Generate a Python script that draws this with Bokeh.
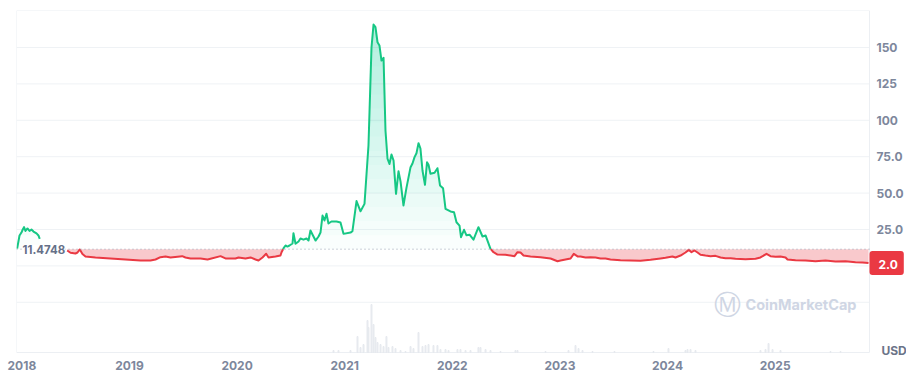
import numpy as np
from bokeh.plotting import figure
from bokeh.models import Range1d, FixedTicker, Label
from bokeh.embed import file_html
from bokeh.resources import INLINE

# ---------------- data ----------------
baseline = 11.4748
last_price = 2.0

early_years = [2017.956, 2017.978, 2017.996, 2018.008, 2018.020, 2018.033, 2018.052,
               2018.071, 2018.089, 2018.108, 2018.136, 2018.154, 2018.166]
early_prices = [11.9, 20.9, 22.9, 25.0, 26.6, 24.0, 25.7, 24.0, 25.0, 23.6, 22.3, 20.9, 18.6]

years = [
    2018.421, 2018.452, 2018.498, 2018.517, 2018.538, 2018.563, 2018.591, 2018.684, 2018.823, 2018.963,
    2019.102, 2019.195, 2019.242, 2019.288, 2019.335, 2019.381, 2019.490, 2019.520, 2019.567, 2019.660,
    2019.725, 2019.753, 2019.846, 2019.892, 2019.985, 2020.013, 2020.078, 2020.125, 2020.171, 2020.199,
    2020.236, 2020.270, 2020.292, 2020.357, 2020.403, 2020.413, 2020.431, 2020.450, 2020.468, 2020.487,
    2020.515, 2020.524, 2020.543, 2020.571, 2020.589, 2020.617, 2020.645, 2020.664, 2020.682, 2020.710,
    2020.729, 2020.757, 2020.775, 2020.794, 2020.812, 2020.831, 2020.849, 2020.877, 2020.924, 2020.961,
    2020.989, 2021.054, 2021.072, 2021.110, 2021.147, 2021.184, 2021.221, 2021.249, 2021.268, 2021.286,
    2021.305, 2021.323, 2021.342, 2021.361, 2021.379, 2021.398, 2021.416, 2021.435, 2021.454, 2021.477,
    2021.500, 2021.519, 2021.546, 2021.574, 2021.612, 2021.630, 2021.649, 2021.667, 2021.686, 2021.704,
    2021.723, 2021.746, 2021.765, 2021.779, 2021.797, 2021.835, 2021.862, 2021.886, 2021.914, 2021.937,
    2021.983, 2022.016, 2022.039, 2022.067, 2022.081, 2022.109, 2022.132, 2022.160, 2022.197, 2022.243,
    2022.281, 2022.309, 2022.355, 2022.383, 2022.420, 2022.494, 2022.541, 2022.578, 2022.606, 2022.634,
    2022.662, 2022.727, 2022.820, 2022.913, 2022.978, 2023.006, 2023.052, 2023.099, 2023.129, 2023.164,
    2023.191, 2023.238, 2023.284, 2023.331, 2023.377, 2023.424, 2023.470, 2023.563, 2023.656, 2023.749,
    2023.842, 2023.935, 2023.981, 2024.046, 2024.074, 2024.121, 2024.167, 2024.198, 2024.223, 2024.251,
    2024.279, 2024.307, 2024.353, 2024.400, 2024.446, 2024.493, 2024.539, 2024.586, 2024.632, 2024.725,
    2024.818, 2024.864, 2024.920, 2024.957, 2025.004, 2025.050, 2025.097, 2025.115, 2025.190, 2025.283,
    2025.375, 2025.468, 2025.561, 2025.654, 2025.747, 2025.812, 2025.868]

prices = [
    10.6, 9.0, 8.5, 9.2, 11.3, 8.2, 6.5, 5.8, 5.1, 4.4,
    3.7, 3.7, 4.4, 6.0, 6.5, 5.8, 6.7, 5.8, 5.1, 5.1,
    4.4, 4.9, 6.7, 5.1, 5.1, 5.8, 5.1, 5.8, 4.4, 3.7,
    5.8, 8.3, 5.8, 6.5, 7.1, 9.4, 12.0, 14.0, 13.3, 14.0,
    15.4, 22.5, 15.2, 16.8, 18.8, 18.0, 18.8, 17.4, 24.3, 20.2,
    17.4, 20.2, 22.9, 34.6, 31.2, 35.8, 29.1, 30.5, 30.5, 29.8,
    22.0, 22.9, 23.8, 44.5, 37.5, 42.6, 82.7, 150.0, 165.8, 164.0,
    153.6, 151.4, 141.0, 142.9, 93.0, 73.6, 70.0, 76.5, 72.4, 49.5,
    65.0, 58.0, 41.5, 53.6, 67.8, 70.3, 74.7, 77.4, 84.3, 80.6,
    65.5, 55.7, 71.2, 69.5, 63.3, 64.0, 67.1, 55.2, 53.4, 39.2,
    37.4, 36.9, 30.0, 27.7, 19.7, 24.8, 21.0, 21.4, 18.0, 26.6,
    20.2, 20.9, 11.7, 9.4, 7.8, 7.6, 7.1, 6.7, 9.4, 9.2,
    7.1, 6.5, 6.0, 5.1, 3.2, 3.7, 4.4, 5.1, 8.3, 6.5,
    6.5, 5.8, 6.0, 5.8, 5.1, 5.1, 4.4, 3.9, 3.7, 3.5,
    4.2, 5.1, 5.6, 6.5, 5.8, 7.1, 9.2, 11.0, 9.4, 10.6,
    9.2, 7.6, 7.1, 6.7, 6.9, 5.8, 5.3, 5.3, 4.9, 4.6,
    4.9, 5.8, 8.3, 6.7, 6.3, 6.5, 5.8, 4.4, 3.9, 3.7,
    3.2, 3.7, 3.0, 3.2, 2.5, 2.3, 2.0]

vol_years = [2020.896, 2020.942, 2021.054, 2021.119, 2021.147, 2021.175, 2021.212, 2021.221, 2021.249,
             2021.268, 2021.286, 2021.305, 2021.333, 2021.361, 2021.388, 2021.407, 2021.444, 2021.472,
             2021.519, 2021.565, 2021.612, 2021.639, 2021.686, 2021.723, 2021.751, 2021.779, 2021.825,
             2021.862, 2021.890, 2021.937, 2021.965, 2022.048, 2022.076, 2022.123, 2022.169, 2022.243,
             2022.262, 2022.309, 2022.355, 2022.448, 2022.587, 2022.606, 2022.866, 2023.080, 2023.145,
             2023.173, 2023.210, 2023.303, 2023.507, 2023.870, 2024.009, 2024.167, 2024.186, 2024.214,
             2024.260, 2024.864, 2024.911, 2024.939, 2024.976, 2025.050, 2025.515, 2025.608]
vol_values = [2, 2, 2, 16, 5, 8, 32, 25, 48, 28, 15, 10, 8, 6, 16, 5, 6, 4, 2, 1, 6, 4, 20, 6, 7,
              8, 7, 7, 3, 3, 2, 3, 3, 2, 2, 5, 5, 3, 2, 1, 2, 2, 1, 2, 7, 4, 2, 1, 1, 1, 4, 2, 3,
              3, 2, 2, 3, 9, 3, 2, 1, 1]

x_ticks = [2018, 2019, 2020, 2021, 2022, 2023, 2024, 2025]
x_tick_labels = ["2018", "2019", "2020", "2021", "2022", "2023", "2024", "2025"]
y_ticks = [-25, 0, 25, 50, 75, 100, 125, 150]
y_tick_labels = ["", "", "25.0", "50.0", "75.0", "100", "125", "150"]

assert len(years) == len(prices)
assert len(vol_years) == len(vol_values)

GREEN = "#16c784"
RED = "#ea3943"
LABEL = "#7d879c"
BORDER = "#eceff3"
FONT = "Inter"

# plot-area extents (data units)
X0, XE, XR = 2017.95, 2025.877, 2026.221      # left edge, chart right edge, canvas right edge
YT, YB, YR = 175.4, -59.5, -63.6              # chart top, chart bottom, canvas bottom

p = figure(width=906, height=375, x_range=Range1d(X0, XR), y_range=Range1d(YR, YT),
           output_backend="svg", toolbar_location=None, y_axis_location="right",
           min_border_left=16, min_border_top=10, min_border_right=0, min_border_bottom=17,
           background_fill_color="white", border_fill_color="white",
           outline_line_color=None)
p.extra_y_ranges = {"vol": Range1d(-6, 342)}

# chart box and grid lines
p.segment(x0=X0, x1=XE, y0=y_ticks, y1=y_ticks, line_color="#eff2f5", line_width=1)
p.quad(left=[X0], right=[XE], bottom=[YB], top=[YT], fill_color=None,
       line_color=BORDER, line_width=1)

# volume bars
p.vbar(x=vol_years, top=vol_values, bottom=0, width=0.009, y_range_name="vol",
       fill_color="#eaedf2", line_color="#e6e9ee")


def with_crossings(xs, ys, base):
    X, Y = [], []
    for i in range(len(xs)):
        if i > 0 and (ys[i - 1] - base) * (ys[i] - base) < 0:
            t = (base - ys[i - 1]) / (ys[i] - ys[i - 1])
            X.append(xs[i - 1] + t * (xs[i] - xs[i - 1]))
            Y.append(base)
        X.append(xs[i])
        Y.append(ys[i])
    return np.array(X), np.array(Y)


N_LAYERS = 16
top_level = max(prices)
for seg_x, seg_y in [(early_years, early_prices), (years, prices)]:
    X, Y = with_crossings(seg_x, seg_y, baseline)
    upper = np.maximum(Y, baseline)
    lower = np.minimum(Y, baseline)
    for k in range(N_LAYERS):
        lev = baseline + k * (top_level - baseline) / N_LAYERS
        p.varea(x=X, y1=np.full(len(X), lev), y2=np.maximum(upper, lev),
                fill_color=GREEN, fill_alpha=0.021)
    p.varea(x=X, y1=lower, y2=np.full(len(X), baseline), fill_color=RED, fill_alpha=0.27)
    up = np.where(Y >= baseline, Y, np.nan)
    dn = np.where(Y <= baseline, Y, np.nan)
    p.line(X, up, line_color=GREEN, line_width=2, line_join="round")
    p.line(X, dn, line_color=RED, line_width=2, line_join="round")

p.segment(x0=[X0], x1=[XE], y0=[baseline], y1=[baseline], line_color="#9aa3b5",
          line_dash="1 3", line_width=1)

# axes
p.xaxis.ticker = FixedTicker(ticks=x_ticks)
p.xaxis.major_label_overrides = {t: l for t, l in zip(x_ticks, x_tick_labels)}
p.yaxis.ticker = FixedTicker(ticks=y_ticks)
p.yaxis.major_label_overrides = {t: l for t, l in zip(y_ticks, y_tick_labels)}
for ax in (p.xaxis, p.yaxis):
    ax.axis_line_color = None
    ax.major_tick_line_color = None
    ax.minor_tick_line_color = None
    ax.major_tick_out = 0
    ax.major_tick_in = 0
    ax.minor_tick_out = 0
    ax.minor_tick_in = 0
    ax.major_label_text_font = FONT
    ax.major_label_text_font_size = "12px"
    ax.major_label_text_font_style = "bold"
    ax.major_label_text_color = LABEL
p.xaxis.major_label_standoff = 2
p.yaxis.major_label_standoff = -30
p.xgrid.visible = False
p.ygrid.visible = False

# annotations
p.add_layout(Label(x=X0, y=baseline, x_offset=6, text="11.4748", text_font=FONT,
                   text_font_size="11.5px", text_font_style="bold", text_color="#667088",
                   text_align="left", text_baseline="middle",
                   background_fill_color="white", background_fill_alpha=0.85))
p.add_layout(Label(x=XE, y=last_price, text="2.0", text_font=FONT, text_font_size="12px",
                   text_font_style="bold", text_color="white", text_align="left",
                   text_baseline="middle", background_fill_color=RED, padding=(9, 6, 9, 6),
                   border_radius=3))
p.add_layout(Label(x=XE, x_offset=12, y=YB, y_offset=2, text="USD", text_font=FONT,
                   text_font_size="12px", text_font_style="bold", text_color="#6b7489",
                   text_align="left", text_baseline="middle"))
# watermark
p.add_layout(Label(x=711, y=54, x_units="screen", y_units="screen", text="Ⓜ",
                   text_font="DejaVu Sans", text_font_size="27px", text_color="#cfd6e4",
                   text_align="center", text_baseline="middle"))
p.add_layout(Label(x=729, y=54, x_units="screen", y_units="screen", text="CoinMarketCap",
                   text_font=FONT, text_font_size="14.5px", text_font_style="bold",
                   text_color="#cfd6e4", text_align="left", text_baseline="middle"))

open("out.html", "w").write(file_html(p, INLINE))
